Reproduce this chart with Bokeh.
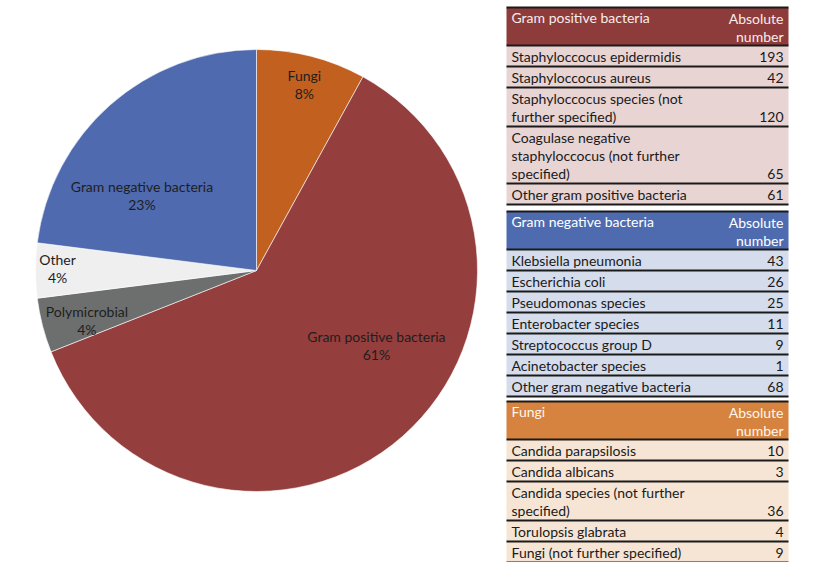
import numpy as np
from bokeh.plotting import figure
from bokeh.models import Range1d
from bokeh.core.properties import value
from bokeh.embed import file_html
from bokeh.resources import INLINE

# ---------------- data ----------------
pie_categories = ["Fungi", "Gram positive bacteria", "Polymicrobial", "Other", "Gram negative bacteria"]
pie_percent = [8, 61, 4, 4, 23]

count_header = ["Absolute", "number"]

gp_title = "Gram positive bacteria"
gp_species = ["Staphyloccocus epidermidis", "Staphyloccocus aureus",
              "Staphyloccocus species (not\nfurther specified)",
              "Coagulase negative\nstaphyloccocus (not further\nspecified)",
              "Other gram positive bacteria"]
gp_counts = [193, 42, 120, 65, 61]

gn_title = "Gram negative bacteria"
gn_species = ["Klebsiella pneumonia", "Escherichia coli", "Pseudomonas species",
              "Enterobacter species", "Streptococcus group D", "Acinetobacter species",
              "Other gram negative bacteria"]
gn_counts = [43, 26, 25, 11, 9, 1, 68]

fu_title = "Fungi"
fu_species = ["Candida parapsilosis", "Candida albicans",
              "Candida species (not further\nspecified)", "Torulopsis glabrata",
              "Fungi (not further specified)"]
fu_counts = [10, 3, 36, 4, 9]

# ---------------- style ----------------
FONT = "Lato"
FS = "14px"
pie_colors = ["#C2611F", "#943E3D", "#6D6E6E", "#EFEFEF", "#4F6AAE"]
label_r = [0.87, 0.64, 0.80, 0.90, 0.62]
label_shift = [0.0, -16.6, -2.0, 0.5, -15.3]

W, H = 807, 562
p = figure(width=W, height=H, output_backend="svg", toolbar_location=None,
           x_range=Range1d(0, W), y_range=Range1d(570 - H, 570),
           min_border=0, min_border_left=0, min_border_right=0,
           min_border_top=0, min_border_bottom=0)
p.axis.visible = False
p.grid.visible = False
p.outline_line_color = None
p.background_fill_color = "white"
p.border_fill_color = "white"


def Y(py):
    return 570 - py


# ---------------- pie ----------------
cx, cy, R = 256, Y(270), 221
vals = np.array(pie_percent, dtype=float)
cum = np.concatenate([[0], np.cumsum(vals)]) / vals.sum()
start = np.pi / 2 - 2 * np.pi * cum[:-1]
end = np.pi / 2 - 2 * np.pi * cum[1:]
p.wedge(x=cx, y=cy, radius=R, start_angle=start, end_angle=end, direction="clock",
        fill_color=pie_colors, line_color="white", line_width=0.6)

lx, ly, names, pcts = [], [], [], []
for i, cat in enumerate(pie_categories):
    mid = (cum[i] + cum[i + 1]) / 2
    th = np.deg2rad(360 * mid + label_shift[i])
    x = cx + label_r[i] * R * np.sin(th)
    y = cy + label_r[i] * R * np.cos(th)
    lx.append(x)
    ly.append(y)
    names.append(cat)
    pcts.append(f"{pie_percent[i]}%")
p.text(x=lx, y=[v + 9 for v in ly], text=names, text_align="center", text_baseline="middle",
       text_font=value(FONT), text_font_size=FS, text_color="#1e1e1e")
p.text(x=lx, y=[v - 9 for v in ly], text=pcts, text_align="center", text_baseline="middle",
       text_font=value(FONT), text_font_size=FS, text_color="#1e1e1e")


# ---------------- tables ----------------
def draw_table(top, title, species, counts, head_col, row_col, head_txt):
    left, right = 506, 788
    hh = 38
    p.quad(left=left, right=right, top=Y(top), bottom=Y(top + hh), fill_color=head_col, line_color=None)
    p.text(x=left + 5, y=Y(top + 10), text=[title], text_align="left", text_baseline="middle",
           text_font=value(FONT), text_font_size=FS, text_color=head_txt)
    p.text(x=right - 5, y=[Y(top + 11), Y(top + 29)], text=count_header, text_align="right",
           text_baseline="middle", text_font=value(FONT), text_font_size=FS, text_color=head_txt)
    seps = [top, top + hh]
    y0 = top + hh
    tx, ty, tt, nx, ny, nt = [], [], [], [], [], []
    tops, bots = [], []
    for sp, c in zip(species, counts):
        lines = sp.split("\n")
        h = 3 + 18 * len(lines)
        tops.append(Y(y0))
        bots.append(Y(y0 + h))
        for k, ln in enumerate(lines):
            tx.append(left + 5)
            ty.append(Y(y0 + 11 + 18 * k))
            tt.append(ln)
        nx.append(right - 5)
        ny.append(Y(y0 + 11 + 18 * (len(lines) - 1)))
        nt.append(str(c))
        y0 += h
        seps.append(y0)
    p.quad(left=left, right=right, top=tops, bottom=bots, fill_color=row_col, line_color=None)
    p.text(x=tx, y=ty, text=tt, text_align="left", text_baseline="middle",
           text_font=value(FONT), text_font_size=FS, text_color="#1a1a1a")
    p.text(x=nx, y=ny, text=nt, text_align="right", text_baseline="middle",
           text_font=value(FONT), text_font_size=FS, text_color="#1a1a1a")
    p.segment(x0=[left] * len(seps), x1=[right] * len(seps), y0=[Y(s) for s in seps],
              y1=[Y(s) for s in seps], line_color="#1a1a1a", line_width=2)


draw_table(7, gp_title, gp_species, gp_counts, "#8E3C3B", "#E8D4D3", "#F7ECEC")
draw_table(211, gn_title, gn_species, gn_counts, "#4F6BAF", "#D5DCEB", "#FFFFFF")
draw_table(401, fu_title, fu_species, fu_counts, "#D5833F", "#F6E5D4", "#FFF6EC")

open("out.html", "w").write(file_html(p, INLINE))
